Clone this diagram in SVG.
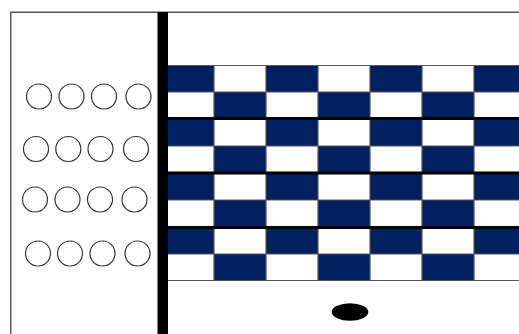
<svg xmlns="http://www.w3.org/2000/svg" width="519" height="334" viewBox="0 0 519 334">
  <style>
    .frame { fill: none; stroke: #555; stroke-width: 1.5; }
    .hole { fill: #fff; stroke: #333; stroke-width: 1.2; }
    .grid { stroke: #555; stroke-width: 1.2; fill: none; }
    .thick { stroke: #000; stroke-width: 3; fill: none; }
  </style>
  <defs>
    <pattern id="check" patternUnits="userSpaceOnUse" x="162" y="65" width="104" height="54">
      <rect x="0" y="0" width="104" height="54" fill="#fff"/>
      <rect x="0" y="0" width="52" height="27" fill="#002060"/>
      <rect x="52" y="27" width="52" height="27" fill="#002060"/>
    </pattern>
  </defs>
  <rect width="519" height="334" fill="#fff"/>
  <g id="frame">
    <path class="frame" d="M10.75 334 V12.25 H519"/>
  </g>
  <g id="board">
    <rect x="162" y="65" width="357" height="216" fill="url(#check)"/>
    <path class="grid" d="M162 65.5 H519 M162 92 H519 M162 146 H519 M162 200 H519 M162 254 H519 M162 280.5 H519 M214 65 V281 M266 65 V281 M318 65 V281 M370 65 V281 M422 65 V281 M474 65 V281"/>
    <path class="thick" d="M162 118.5 H519 M162 173 H519 M162 227.5 H519"/>
  </g>
  <g id="bar">
    <rect x="157.5" y="12" width="10.5" height="322" fill="#000"/>
  </g>
  <g id="holes">
    <circle class="hole" cx="39" cy="96.5" r="12.5"/>
    <circle class="hole" cx="71.5" cy="96.5" r="12.5"/>
    <circle class="hole" cx="104" cy="96.5" r="12.5"/>
    <circle class="hole" cx="138.5" cy="96.5" r="12.5"/>
    <circle class="hole" cx="36" cy="149" r="12.5"/>
    <circle class="hole" cx="68.3" cy="149" r="12.5"/>
    <circle class="hole" cx="100.5" cy="149" r="12.5"/>
    <circle class="hole" cx="136" cy="149" r="12.5"/>
    <circle class="hole" cx="35" cy="199.5" r="12.5"/>
    <circle class="hole" cx="67.5" cy="199.5" r="12.5"/>
    <circle class="hole" cx="100" cy="199.5" r="12.5"/>
    <circle class="hole" cx="134.5" cy="199.5" r="12.5"/>
    <circle class="hole" cx="38" cy="253.5" r="12.5"/>
    <circle class="hole" cx="70" cy="253.5" r="12.5"/>
    <circle class="hole" cx="102.5" cy="253.5" r="12.5"/>
    <circle class="hole" cx="137.5" cy="253.5" r="12.5"/>
  </g>
  <g id="puck">
    <ellipse cx="350" cy="312" rx="18.3" ry="8.7" fill="#000"/>
  </g>
</svg>
